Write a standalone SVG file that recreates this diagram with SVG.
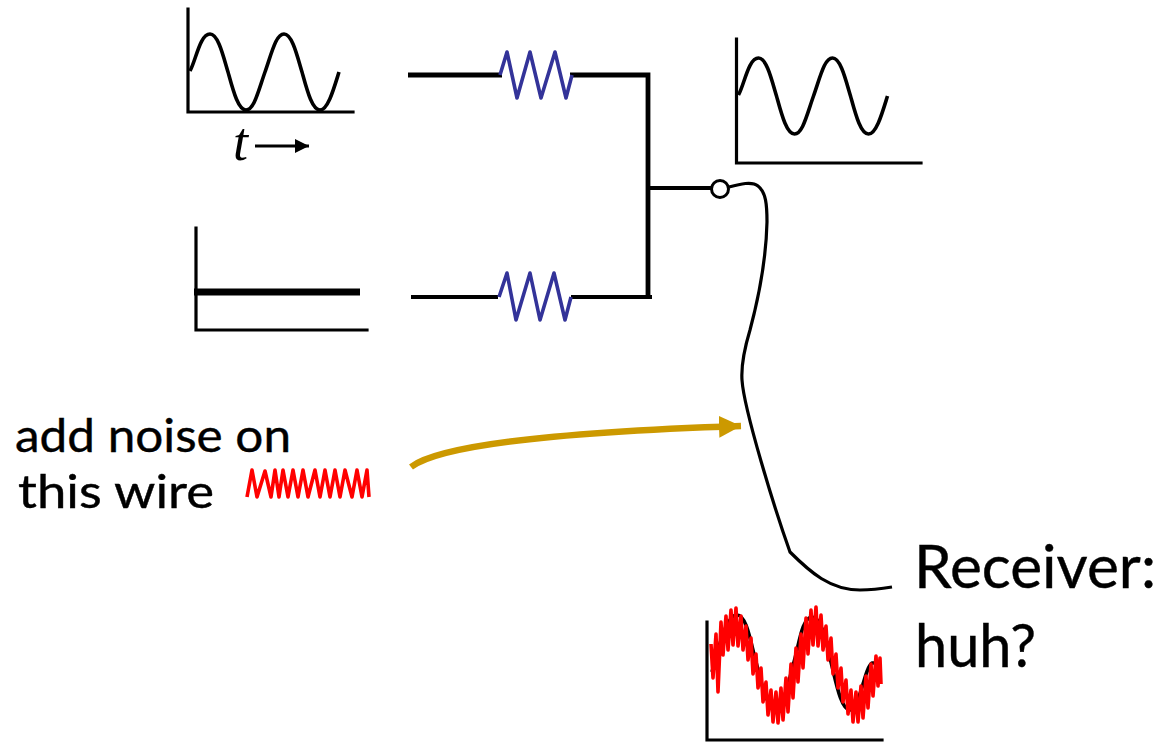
<svg xmlns="http://www.w3.org/2000/svg" width="1163" height="742" viewBox="0 0 1163 742">
<style>
.axis{fill:none;stroke:#000;stroke-width:3.2;stroke-linecap:square;stroke-linejoin:miter}
.sine{fill:none;stroke:#000;stroke-width:3.6;stroke-linecap:butt;stroke-linejoin:round}
.wire{fill:none;stroke:#000;stroke-linecap:butt;stroke-linejoin:miter}
.res{fill:none;stroke:#333399;stroke-width:3.6;stroke-linejoin:round}
.noise{fill:none;stroke:#ff0000;stroke-linejoin:round}
.label{font-family:Lato,"Open Sans",sans-serif;fill:#000;stroke:#000;stroke-width:.4}
</style>
<defs>
<marker id="goldHead" markerUnits="userSpaceOnUse" markerWidth="24" markerHeight="24" refX="22" refY="11" orient="auto"><path d="M0,0L22,11L0,22Z" fill="#cc9900"/></marker>
<marker id="tHead" markerUnits="userSpaceOnUse" markerWidth="16" markerHeight="16" refX="14" refY="7" orient="auto"><path d="M0,0L14,7L0,14Z" fill="#000"/></marker>
<path id="sinePath" class="sine" d="M190,71C196,60 200,34 210,34C218,34 223,55 228,72C233,90 238,110 246,110C254,110 258,92 265,72C272,52 276,34 284,34C292,34 297,55 302,72C307,90 312,110 320,110C328,110 334,88 339,72"/>
</defs>
<g id="connectors">
<path class="wire" stroke-width="4.8" d="M408,75H502"/>
<path class="wire" stroke-width="4.8" d="M570,75H648V299"/>
<path class="wire" stroke-width="3.8" d="M411,297H498"/>
<path class="wire" stroke-width="3.8" d="M571,297H652"/>
<path class="wire" stroke-width="4" d="M648,188H713"/>
<path class="wire" stroke-width="3.2" d="M729,187C740,184 752,181 758,186C766,192 767,205 767,222C766,265 758,300 750,330C744,350 741,365 742,380C744,410 775,510 790,552C810,572 830,590 860,590C870,590 880,589 892,587"/>
<path id="noise-arrow" fill="none" stroke="#cc9900" stroke-width="6.5" marker-end="url(#goldHead)" d="M411,467C440,445 560,432 741,426"/>
</g>
<g id="source-wave">
<path class="axis" d="M188,9V112H353"/>
<use href="#sinePath"/>
<text x="233" y="160" font-family="'Liberation Serif',serif" font-style="italic" font-size="54">t</text>
<path d="M255,146H309" fill="none" stroke="#000" stroke-width="3" marker-end="url(#tHead)"/>
</g>
<g id="flat-wave">
<path class="axis" d="M196,228V330H367"/>
<path d="M194,292H360" fill="none" stroke="#000" stroke-width="7"/>
</g>
<g id="output-wave">
<path class="axis" d="M736.5,39V163H921"/>
<use href="#sinePath" transform="translate(548.5,24)"/>
</g>
<g id="resistor-top"><path class="res" d="M500,75L507,52L517,98L530,52L541,98L555,52L566,98L572,75"/></g>
<g id="resistor-bottom"><path class="res" d="M499,297L507,273L516,320L530,273L540,320L554,273L565,320L571,297"/></g>
<g id="junction"><circle cx="720" cy="189" r="8.5" fill="#fff" stroke="#000" stroke-width="3"/></g>
<g id="noise-label">
<text class="label" x="15" y="452" font-size="46" textLength="276" lengthAdjust="spacingAndGlyphs">add noise on</text>
<text class="label" x="18" y="508" font-size="46" textLength="196" lengthAdjust="spacingAndGlyphs">this wire</text>
<path class="noise" stroke-width="3.6" d="M247,497L252,470L257,497L265,471L271,497L275,470L279,497L283,470L288,497L293,470L298,497L303,470L308,497L315,470L320,497L325,470L330,497L335,470L340,497L345,470L352,497L357,470L362,497L367,470L369,497"/>
</g>
<g id="receiver-label">
<text class="label" x="914" y="588" font-size="60" textLength="242" lengthAdjust="spacingAndGlyphs">Receiver:</text>
<text class="label" x="915" y="667" font-size="60" textLength="121" lengthAdjust="spacingAndGlyphs">huh?</text>
</g>
<g id="received-wave">
<path class="axis" d="M707,622V740H882"/>
<path class="sine" d="M712,672C718,650 726,615 737,615C747,615 751,645 756,662C761,680 766,708 775,708C784,708 789,680 794,662C799,645 802,617 812,617C822,617 827,645 831,662C836,682 841,710 850,710C860,710 864,668 872,663L878,663"/>
<path class="noise" stroke-width="3.6" d="M711,644L713,678L716,634L718,692L721,622L723,655L726,616L728,650L731,610L733,645L736,608L738,646L741,616L743,650L746,626L748,660L751,638L753,674L756,654L758,688L761,668L763,702L766,682L768,715L771,690L773,722L776,692L778,723L781,688L783,720L786,678L788,712L791,664L793,698L796,648L798,682L801,634L803,668L806,618L808,654L811,610L813,645L816,607L818,646L821,615L823,650L826,626L828,660L831,638L833,674L836,654L838,688L841,668L843,702L846,680L848,714L851,690L853,722L856,692L858,722L861,686L863,718L866,676L868,708L871,664L873,696L876,656L878,686L880,658L881,684"/>
</g>
</svg>
